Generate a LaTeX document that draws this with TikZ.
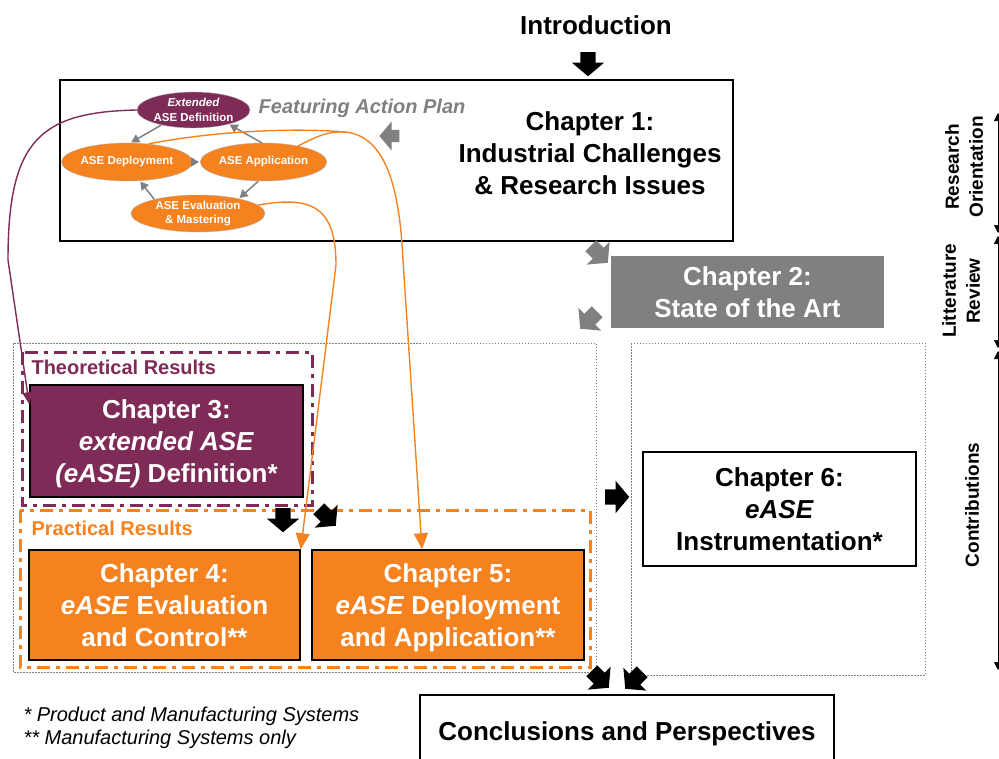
\documentclass[tikz,border=0pt]{standalone}
\usepackage{fontspec}
\setmainfont{Liberation Sans}
\usetikzlibrary{shapes.geometric, shapes.arrows, arrows.meta, calc}

\definecolor{asepurple}{HTML}{7F2B57}
\definecolor{aseorange}{HTML}{F5821F}
\definecolor{asegray}{HTML}{808080}
\newcommand{\chapfont}{\fontsize{26}{32}\selectfont\bfseries}
\newcommand{\planfont}{\fontsize{11.5}{14.5}\selectfont\bfseries}
\newcommand{\featfont}{\fontsize{20}{24}\selectfont\bfseries\itshape}
\newcommand{\resfont}{\fontsize{20}{24}\selectfont\bfseries}
\newcommand{\notefont}{\fontsize{20}{23}\selectfont\itshape}
\newcommand{\sidefont}{\fontsize{19}{24}\selectfont\bfseries}

\begin{document}
\begin{tikzpicture}[x=1pt, y=-1pt,
  chbox/.style={draw=black, line width=1.5pt, inner sep=0pt, align=center, font=\chapfont, text depth=-4pt},
  blockarr/.style={single arrow, fill=#1, inner sep=7.5pt, minimum width=32pt, minimum height=24pt, single arrow head extend=8.5pt, single arrow tip angle=100},
  planell/.style={ellipse, draw=asegray!60, fill=#1, text=white, inner sep=0pt, align=center, font=\planfont},
  planarr/.style={asegray, line width=1.5pt, -{Triangle[width=9pt,length=8pt]}, shorten >=1pt},
  resultbox/.style={line width=3pt, dash pattern=on 13pt off 6pt on 4pt off 6pt},
  contrib/.style={asegray, line width=1pt, dash pattern=on 1.5pt off 1.5pt},
  linkarr/.style={line width=1.4pt, -{Triangle[width=14pt,length=16pt]}}]
  \useasboundingbox (0,0) rectangle (999,758);

  % introduction and chapter 1
  \node (intro) [font=\chapfont] at (596,25) {Introduction};
  \node (introarr) [blockarr=black, rotate=-90] at (588,61) {};
  \node (chone) [chbox, minimum width=673pt, minimum height=161pt] at (396.5,160.5) {};
  \node (chonetxt) [align=center, font=\chapfont] at (590,153) {Chapter 1:\\Industrial Challenges\\\& Research Issues};

  % action plan
  \node (ext) [planell=asepurple, minimum width=113pt, minimum height=36pt] at (193.5,110) {\textit{Extended}\\ASE Definition};
  \node (dep) [planell=aseorange, minimum width=116pt, minimum height=38pt] at (127,162) {ASE Deployment};
  \node (app) [planell=aseorange, minimum width=117pt, minimum height=38pt] at (263.5,162) {ASE Application};
  \node (eva) [planell=aseorange, minimum width=134pt, minimum height=37pt] at (198,213.5) {ASE Evaluation\\\& Mastering};
  \draw [planarr] (ext.205) -- (dep.80);
  \draw [planarr] (dep.east) -- (app.west);
  \draw [planarr] (app.255) -- (eva.20);
  \draw [planarr] (eva.162) -- (dep.-56);
  \draw [planarr] (app.95) -- (ext.-22);
  \node (feat) [text=asegray, font=\featfont] at (362,108) {Featuring Action Plan};
  \node (featarr) [blockarr=asegray, rotate=180, inner sep=6pt, minimum width=26pt, minimum height=20pt] at (392,136) {};

  % chapter 2
  \node (chtwo) [chbox, draw=none, fill=asegray, text=white, minimum width=273pt, minimum height=72pt, text depth=-2pt] at (747.5,292) {Chapter 2:\\State of the Art};
  \node (onetwoarr) [blockarr=asegray, rotate=-45] at (597,252) {};
  \node (twoarr) [blockarr=asegray, rotate=-135] at (591,318) {};

  % contributions
  \draw [contrib] (13,343) rectangle (596,672);
  \draw [contrib] (631,343) rectangle (925,675);
  \draw [resultbox, asepurple] (22,352) rectangle (312,505);
  \draw [resultbox, aseorange] (20,510) rectangle (590,667);
  \node (theo) [anchor=west, text=asepurple, font=\resfont] at (28,367) {Theoretical Results};
  \node (prac) [anchor=west, text=aseorange, font=\resfont] at (28,528) {Practical Results};
  \node (chthree) [chbox, fill=asepurple, text=white, minimum width=273pt, minimum height=112pt] at (166.5,441) {Chapter 3:\\\textit{extended ASE}\\\textit{(eASE)} Definition*};
  \node (chfour) [chbox, fill=aseorange, text=white, minimum width=271pt, minimum height=110pt] at (164.5,605) {Chapter 4:\\\textit{eASE} Evaluation\\and Control**};
  \node (chfive) [chbox, fill=aseorange, text=white, minimum width=272pt, minimum height=110pt] at (448,605) {Chapter 5:\\\textit{eASE} Deployment\\and Application**};
  \node (chsix) [chbox, fill=white, minimum width=273pt, minimum height=114pt, text depth=0pt] at (779.5,509) {Chapter 6:\\\textit{eASE}\\Instrumentation*};
  \node (threefourarr) [blockarr=black, rotate=-90] at (283,517) {};
  \node (threefivearr) [blockarr=black, rotate=-45] at (325,515) {};
  \node (sixarr) [blockarr=black] at (614,497) {};
  \node (leftconclarr) [blockarr=black, rotate=-45] at (598,677) {};
  \node (rightconclarr) [blockarr=black, rotate=-135] at (636,678) {};

  % conclusions and notes
  \node (concl) [chbox, minimum width=414pt, minimum height=72pt, text depth=0pt] at (627,731) {Conclusions and Perspectives};
  \node (notes) [anchor=west, align=left, font=\notefont] at (20,727.5) {* Product and Manufacturing Systems\\** Manufacturing Systems only};

  % side scale
  \foreach \ya/\yb in {113/233, 236/348, 351/670}
    \draw [{Triangle[width=8pt,length=8pt]}-{Triangle[width=8pt,length=8pt]}, line width=0.6pt] (998,\ya) -- (998,\yb);
  \node (reso) [rotate=90, align=center, font=\sidefont] at (964,167) {Research\\Orientation};
  \node (litrev) [rotate=90, align=center, font=\sidefont] at (961,291) {Litterature\\Review};
  \node (contr) [rotate=90, font=\sidefont] at (972,505) {Contributions};

  % links from the action plan
  \draw [linkarr, asepurple, -{Triangle[width=10pt,length=12pt]}] (ext.west) .. controls (40,112) and (8,140) .. (8,260) -- ([yshift=-20pt]chthree.north west);
  \draw [linkarr, aseorange, -] (dep.40) .. controls (220,130) and (300,128) .. (345,132);
  \draw [linkarr, aseorange] (app.25) .. controls (318,136) and (328,131) .. (345,132) .. controls (390,136) and (400,200) .. (403,260) -- ([xshift=-26pt]chfive.north);
  \draw [linkarr, aseorange] (eva.8) .. controls (310,196) and (336,205) .. (336,265) -- (chfour.north east);
\end{tikzpicture}
\end{document}
